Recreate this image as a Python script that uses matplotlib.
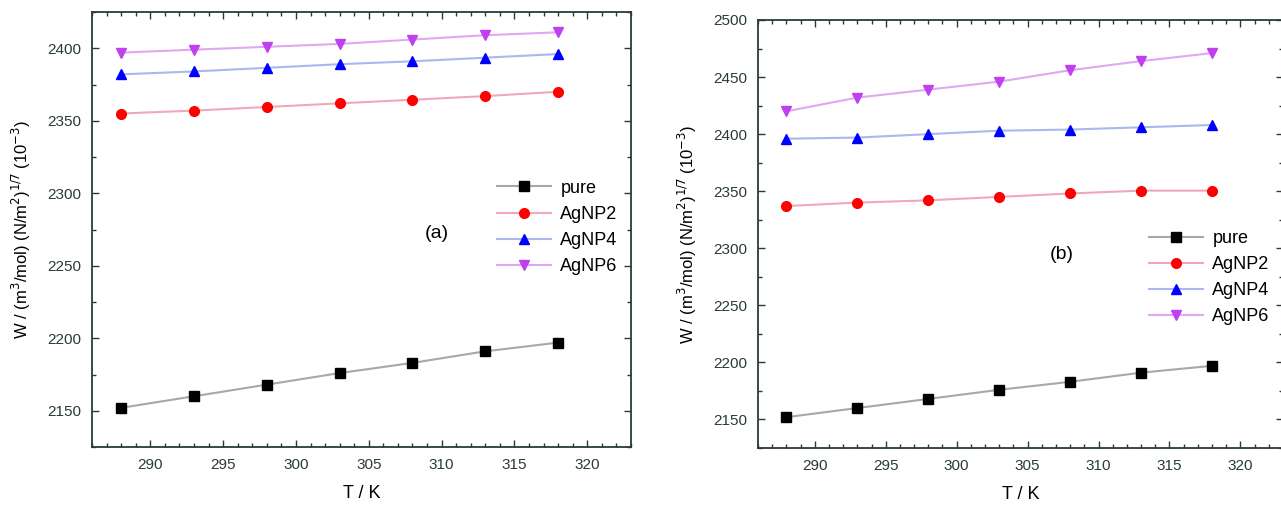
import matplotlib
matplotlib.use("Agg")
import matplotlib.pyplot as plt
from matplotlib.ticker import MultipleLocator

plt.rcParams["font.family"] = ["Liberation Sans", "DejaVu Sans"]

# temperaturas (K)
T = [288, 293, 298, 303, 308, 313, 318]
series_names = ["pure", "AgNP2", "AgNP4", "AgNP6"]

# painel (a)
a_pure = [2152, 2160, 2168, 2176, 2183, 2191, 2197]
a_np2 = [2355, 2357, 2359.5, 2362, 2364.5, 2367, 2370]
a_np4 = [2382, 2384, 2386.5, 2389, 2391, 2393.5, 2396]
a_np6 = [2397, 2399, 2401, 2403, 2406, 2409, 2411]

# painel (b)
b_pure = [2152, 2160, 2168, 2176, 2183, 2191, 2197]
b_np2 = [2337, 2340, 2342, 2345, 2348, 2350.5, 2350.5]
b_np4 = [2396, 2397, 2400, 2403, 2404, 2406, 2408]
b_np6 = [2420, 2432, 2439, 2446, 2456, 2464, 2471]

markers = ["s", "o", "^", "v"]
mcolors = ["black", "#ff0000", "#0000ff", "#c040f0"]
lcolors = ["#a8a8a8", "#f0a8b8", "#a8b8f0", "#e0a8f0"]

ylabel = r"W / (m$^3$/mol) (N/m$^2$)$^{1/7}$ (10$^{-3}$)"

fig = plt.figure(figsize=(12.81, 5.05), dpi=100)
ax1 = fig.add_axes([92 / 1281, 1 - 447 / 505, 539 / 1281, 435 / 505])
ax2 = fig.add_axes([758 / 1281, 1 - 448 / 505, 525 / 1281, 428 / 505])


def painel(ax, dados, ylim, yticks, leg_pos, letra, letra_pos):
    for i, y in enumerate(dados):
        ax.plot(T, y, color=lcolors[i], lw=1.5, marker=markers[i], ms=7,
                mfc=mcolors[i], mec=mcolors[i], label=series_names[i])
    ax.set_xlim(286, 323)
    ax.set_ylim(*ylim)
    ax.set_xticks([290, 295, 300, 305, 310, 315, 320])
    ax.set_yticks(yticks)
    ax.xaxis.set_minor_locator(MultipleLocator(1))
    ax.yaxis.set_minor_locator(MultipleLocator(25))
    ax.tick_params(which="both", direction="in", top=True, right=True,
                   labelsize=11, colors="#2a3a3a")
    ax.tick_params(which="major", length=5, width=1, pad=8)
    ax.tick_params(which="minor", length=3, width=1)
    for s in ax.spines.values():
        s.set_color("#2a3a3a")
        s.set_linewidth(1.3)
    ax.set_xlabel("T / K", fontsize=13, labelpad=9)
    ax.set_ylabel(ylabel, fontsize=12, labelpad=10)
    ax.legend(loc="upper left", bbox_to_anchor=leg_pos, frameon=False,
              fontsize=13, handlelength=3, borderpad=0, labelspacing=0.5,
              handletextpad=0.5)
    ax.text(letra_pos[0], letra_pos[1], letra, transform=ax.transAxes,
            fontsize=14, ha="center", va="center")


painel(ax1, [a_pure, a_np2, a_np4, a_np6], (2125, 2425),
       [2150, 2200, 2250, 2300, 2350, 2400], (0.735, 0.635), "(a)", (0.64, 0.49))
painel(ax2, [b_pure, b_np2, b_np4, b_np6], (2125, 2500),
       [2150, 2200, 2250, 2300, 2350, 2400, 2450, 2500], (0.728, 0.53), "(b)", (0.579, 0.453))

fig.savefig("out.png", dpi=100)
